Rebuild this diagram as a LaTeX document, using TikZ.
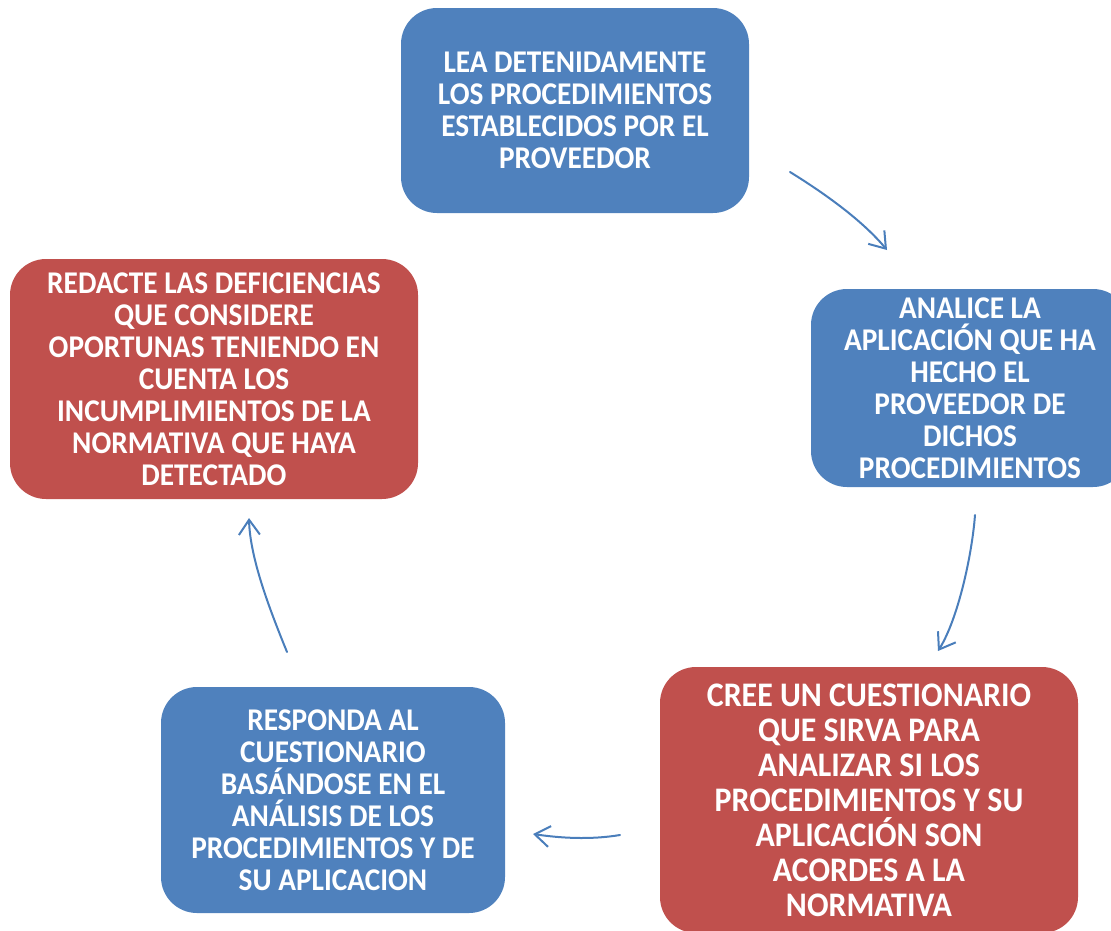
\documentclass[tikz,border=0pt]{standalone}
\usepackage{fontspec}
\setmainfont{Carlito}
\usetikzlibrary{arrows.meta}
\definecolor{boxblue}{HTML}{4F81BD}
\definecolor{boxred}{HTML}{C0504D}
\definecolor{linkblue}{HTML}{4A7EBB}
\newcommand{\boxtext}[4]{\scalebox{1}[1.08]{\parbox{#1}{\centering
  \fontsize{#2}{#3}\selectfont\bfseries\lineskiplimit=-100pt\lineskip=0pt
  #4\par}}}
\begin{document}
\begin{tikzpicture}[x=1pt,y=-1pt,
  stepbox/.style={rounded corners=36pt, align=center, text=white, inner sep=0pt},
  bluebox/.style={stepbox, fill=boxblue},
  redbox/.style={stepbox, fill=boxred},
  conn/.style={draw=linkblue, line width=2pt, line cap=round, line join=round,
    -{Straight Barb[length=15pt,width=21pt,line width=2pt]}}]
\useasboundingbox (0,0) rectangle (1111,930);

\node[bluebox, minimum width=348pt, minimum height=205pt] (lea) at (575,110.5)
  {\boxtext{340pt}{29.3}{29.6}{LEA DETENIDAMENTE\\LOS PROCEDIMIENTOS\\ESTABLECIDOS POR EL\\PROVEEDOR}};

\node[bluebox, minimum width=318pt, minimum height=198pt] (analice) at (970,388)
  {\boxtext{310pt}{29.3}{29.6}{ANALICE LA\\APLICACIÓN QUE HA\\HECHO EL\\PROVEEDOR DE\\DICHOS\\PROCEDIMIENTOS}};

\node[redbox, minimum width=418pt, minimum height=266pt] (cree) at (869,800)
  {\boxtext{410pt}{31.9}{32.4}{CREE UN CUESTIONARIO\\QUE SIRVA PARA\\ANALIZAR SI LOS\\PROCEDIMIENTOS Y SU\\APLICACIÓN SON\\ACORDES A LA\\NORMATIVA}};

\node[bluebox, minimum width=344pt, minimum height=226pt] (responda) at (333,800)
  {\boxtext{336pt}{29.3}{29.6}{RESPONDA AL\\CUESTIONARIO\\BASÁNDOSE EN EL\\ANÁLISIS DE LOS\\PROCEDIMIENTOS Y DE\\SU APLICACION}};

\node[redbox, minimum width=408pt, minimum height=240pt] (redacte) at (214,379)
  {\boxtext{400pt}{29.3}{29.6}{REDACTE LAS DEFICIENCIAS\\QUE CONSIDERE\\OPORTUNAS TENIENDO EN\\CUENTA LOS\\INCUMPLIMIENTOS DE LA\\NORMATIVA QUE HAYA\\DETECTADO}};

\coordinate (a1s) at (790,172);
\coordinate (a1e) at (887,250);
\coordinate (a2s) at (975,515);
\coordinate (a2e) at (938,651);
\coordinate (a3s) at (620,835);
\coordinate (a3e) at (533,834);
\coordinate (a4s) at (287,652);
\coordinate (a4e) at (249,518);

\draw[conn] (a1s) .. controls (824,193) and (862,220) .. (a1e);
\draw[conn] (a2s) .. controls (972,555) and (958,619) .. (a2e);
\draw[conn] (a3s) .. controls (590,840) and (560,838) .. (a3e);
\draw[conn] (a4s) .. controls (272,615) and (250,560) .. (a4e);
\end{tikzpicture}
\end{document}
